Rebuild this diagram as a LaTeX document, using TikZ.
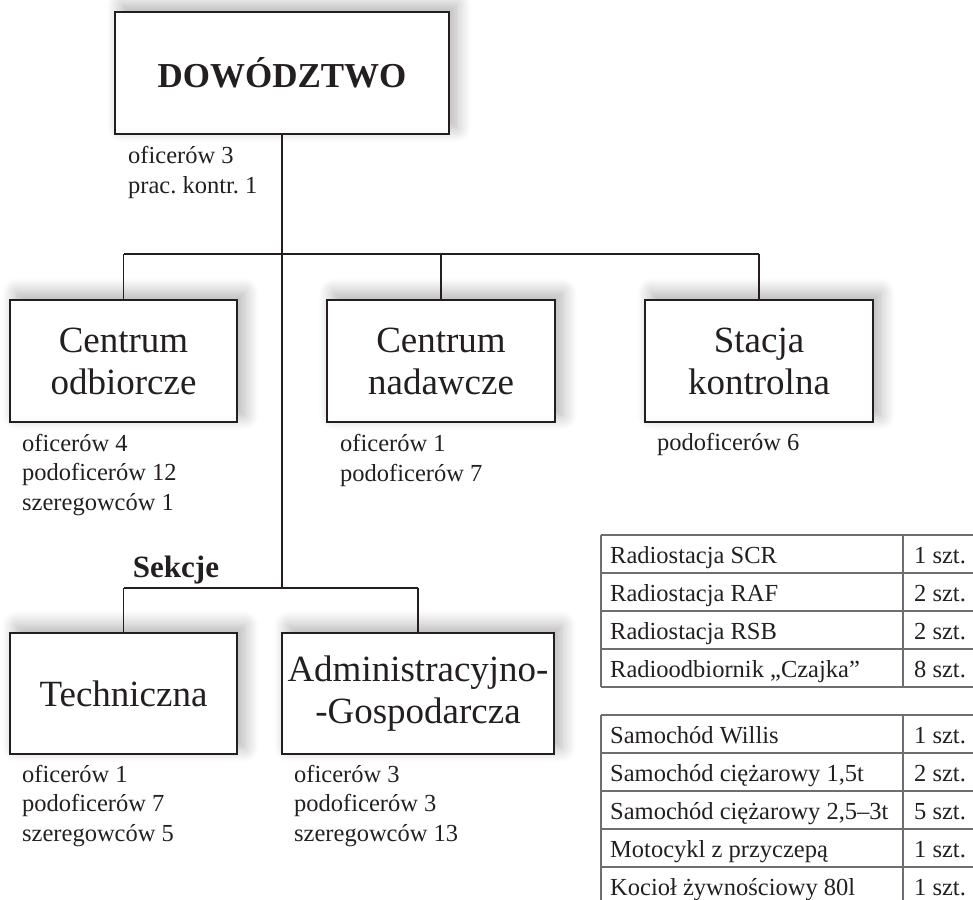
\documentclass[tikz,border=0pt]{standalone}
\usepackage{fontspec}
\setmainfont{Liberation Serif}
\frenchspacing
\usetikzlibrary{shadows.blur}
\definecolor{ink}{HTML}{231F20}
\definecolor{rule}{HTML}{6D6E71}
\begin{document}
\begin{tikzpicture}[x=1pt,y=-1pt,
  unitbox/.style={draw=ink, line width=1.8pt, fill=white, text=ink,
    align=center, inner sep=0pt,
    font=\fontsize{37}{42}\selectfont,
    blur shadow={shadow xshift=7pt, shadow yshift=7pt,
      shadow blur radius=15pt, shadow blur steps=12, shadow opacity=32}},
  % multi-line labels: the base anchor sits on the last line
  staff/.style={anchor=base west, inner sep=0pt, align=left, text=ink,
    font=\fontsize{24.5}{29.5}\selectfont},
  link/.style={draw=ink, line width=1.3pt},
  gridline/.style={draw=rule, line width=1.2pt},
  cell/.style={anchor=base west, inner sep=0pt, text=ink,
    font=\fontsize{24.5}{29}\selectfont}]
\useasboundingbox (0,0) rectangle (973,899);
\clip (0,0) rectangle (973,899);

% --- units ---
\node[unitbox, minimum width=334pt, minimum height=122pt,
  font=\fontsize{35}{40}\selectfont\bfseries] (dow) at (282,73) {DOWÓDZTWO};
\node[unitbox, minimum width=227pt, minimum height=122pt] (odb) at (123.5,361) {Centrum\\odbiorcze};
\node[unitbox, minimum width=228pt, minimum height=122pt] (nad) at (441,361) {Centrum\\nadawcze};
\node[unitbox, minimum width=228pt, minimum height=122pt] (kon) at (759,361) {Stacja\\kontrolna};
\node[unitbox, minimum width=227pt, minimum height=121pt] (tech) at (123.5,693.5) {Techniczna};
\node[unitbox, minimum width=272pt, minimum height=121pt] (adm) at (418,693.5) {Administracyjno-\\-Gospodarcza};

% --- bus junctions ---
\coordinate (bus) at (282,254);
\coordinate (sbus) at (282,588);

% --- connectors ---
\draw[link] (dow.south) -- (sbus);
\draw[link] (odb.north |- bus) -- (kon.north |- bus);
\draw[link] (odb.north |- bus) -- (odb.north);
\draw[link] (nad.north |- bus) -- (nad.north);
\draw[link] (kon.north |- bus) -- (kon.north);
\draw[link] (tech.north |- sbus) -- (adm.north |- sbus);
\draw[link] (tech.north |- sbus) -- (tech.north);
\draw[link] (adm.north |- sbus) -- (adm.north);

\node[anchor=base, inner sep=0pt, text=ink, font=\fontsize{31}{36}\selectfont\bfseries]
  (sekcje) at (176,577) {Sekcje};

% --- staff figures ---
\node[staff] (sdow) at (128,193) {oficerów 3\\prac. kontr. 1};
\node[staff] (sodb) at (22,510) {oficerów 4\\podoficerów 12\\szeregowców 1};
\node[staff] (snad) at (340,481) {oficerów 1\\podoficerów 7};
\node[staff] (skon) at (657,450) {podoficerów 6};
\node[staff] (stech) at (22,841) {oficerów 1\\podoficerów 7\\szeregowców 5};
\node[staff] (sadm) at (294,841) {oficerów 3\\podoficerów 3\\szeregowców 13};

% --- equipment tables ---
\foreach \y in {535,573,611,649,687} \draw[gridline] (601,\y) -- (1000,\y);
\draw[gridline] (601,535) -- (601,687);
\draw[gridline] (903,535) -- (903,687);
\foreach \y in {715,753,791,829,867,905} \draw[gridline] (601,\y) -- (1000,\y);
\draw[gridline] (601,715) -- (601,905);
\draw[gridline] (903,715) -- (903,905);

\foreach \t/\n [count=\i] in {Radiostacja SCR/1, Radiostacja RAF/2,
    Radiostacja RSB/2, Radioodbiornik „Czajka”/8} {
  \node[cell] (ra\i) at (610,{535+38*(\i-1)+28}) {\t};
  \node[cell] (rb\i) at (914,{535+38*(\i-1)+28}) {\n\ szt.};
}
\foreach \t/\n [count=\i] in {Samochód Willis/1, Samochód ciężarowy 1{,}5t/2,
    Samochód ciężarowy 2{,}5–3t/5, Motocykl z przyczepą/1,
    Kocioł żywnościowy 80l/1} {
  \node[cell] (va\i) at (610,{715+38*(\i-1)+28}) {\t};
  \node[cell] (vb\i) at (914,{715+38*(\i-1)+28}) {\n\ szt.};
}
\end{tikzpicture}
\end{document}
